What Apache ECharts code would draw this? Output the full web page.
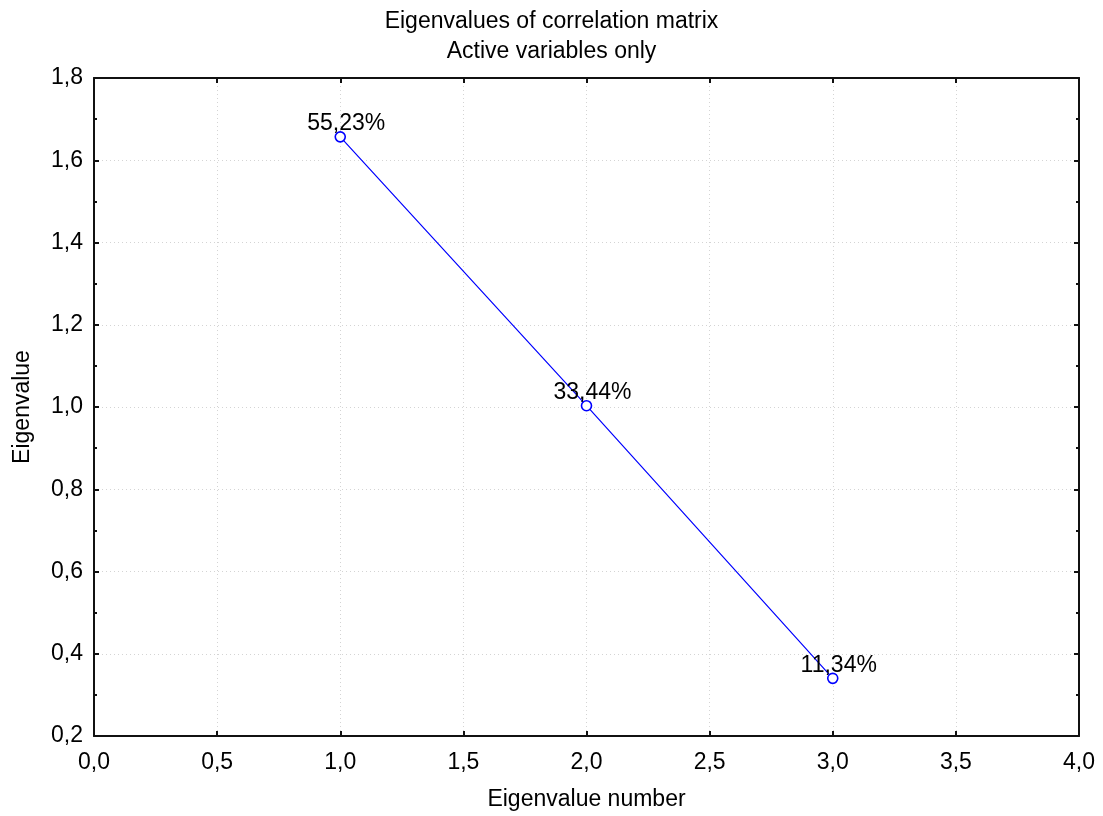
<!DOCTYPE html>
<html>
<head>
<meta charset="utf-8">
<title>Eigenvalues of correlation matrix</title>
<script src="https://cdn.jsdelivr.net/npm/echarts@6/dist/echarts.min.js"></script>
<style>
  html, body { margin: 0; padding: 0; background: #fff; }
  #chart { width: 1103px; height: 816px; }
</style>
</head>
<body>
<div id="chart"></div>
<script>
// Scree plot data
const eigenNumbers = [1, 2, 3];
const eigenValues = [1.6569, 1.0032, 0.3402];
const explainedPct = [55.23, 33.44, 11.34];

const FONT = 'Liberation Sans, Arial, sans-serif';
const FS = 23;
const comma = (v, d) => v.toFixed(d).replace('.', ',');

const seriesData = eigenNumbers.map((n, i) => ({
  value: [n, eigenValues[i]],
  pct: explainedPct[i]
}));

const axisLineStyle = { color: '#111', width: 2 };
const gridLineStyle = { color: '#d4d4d4', type: [1, 3], width: 1 };

const chart = echarts.init(document.getElementById('chart'), null, { renderer: 'canvas' });
chart.setOption({
  animation: false,
  backgroundColor: '#fff',
  textStyle: { fontFamily: FONT, color: '#000' },
  title: {
    text: 'Eigenvalues of correlation matrix\nActive variables only',
    left: 'center',
    top: 2,
    textStyle: { fontFamily: FONT, fontSize: FS, fontWeight: 'normal', color: '#000', lineHeight: 30 }
  },
  grid: { left: 94, right: 24, top: 78, bottom: 80 },
  xAxis: [
    {
      type: 'value', min: 0, max: 4, interval: 0.5,
      name: 'Eigenvalue number', nameLocation: 'middle', nameGap: 52,
      nameTextStyle: { fontFamily: FONT, fontSize: FS, color: '#000' },
      axisLine: { show: true, onZero: false, lineStyle: axisLineStyle },
      axisTick: { show: true, inside: true, length: 5, lineStyle: axisLineStyle },
      axisLabel: { fontFamily: FONT, fontSize: FS, color: '#000', margin: 15, formatter: v => comma(v, 1) },
      splitLine: { show: true, lineStyle: gridLineStyle }
    },
    {
      type: 'value', min: 0, max: 4, interval: 0.5, position: 'top',
      axisLine: { show: true, onZero: false, lineStyle: axisLineStyle },
      axisTick: { show: true, inside: true, length: 5, lineStyle: axisLineStyle },
      axisLabel: { show: false },
      splitLine: { show: false }
    }
  ],
  yAxis: [
    {
      type: 'value', min: 0.2, max: 1.8, interval: 0.2,
      name: 'Eigenvalue', nameLocation: 'middle', nameGap: 60, nameRotate: 90,
      nameTextStyle: { fontFamily: FONT, fontSize: FS, color: '#000' },
      axisLine: { show: true, onZero: false, lineStyle: axisLineStyle },
      axisTick: { show: true, inside: true, length: 5, lineStyle: axisLineStyle },
      minorTick: { show: true, splitNumber: 2, length: 3, lineStyle: { color: '#111', width: 2 } },
      axisLabel: { fontFamily: FONT, fontSize: FS, color: '#000', margin: 11, formatter: v => comma(v, 1) },
      splitLine: { show: true, lineStyle: gridLineStyle }
    },
    {
      type: 'value', min: 0.2, max: 1.8, interval: 0.2, position: 'right',
      axisLine: { show: true, onZero: false, lineStyle: axisLineStyle },
      axisTick: { show: true, inside: true, length: 5, lineStyle: axisLineStyle },
      minorTick: { show: true, splitNumber: 2, length: 3, lineStyle: { color: '#111', width: 2 } },
      axisLabel: { show: false },
      splitLine: { show: false }
    }
  ],
  series: [
    {
      type: 'line',
      xAxisIndex: 0,
      yAxisIndex: 0,
      data: seriesData,
      symbol: 'circle',
      symbolSize: 10,
      lineStyle: { color: '#0000ff', width: 1.2 },
      itemStyle: { color: '#fff', borderColor: '#0000ff', borderWidth: 1.6 },
      label: {
        show: true,
        position: 'inside',
        offset: [6, -13],
        fontFamily: FONT,
        fontSize: FS,
        color: '#000',
        formatter: p => comma(p.data.pct, 2) + '%'
      },
      z: 5
    }
  ]
});
</script>
</body>
</html>
